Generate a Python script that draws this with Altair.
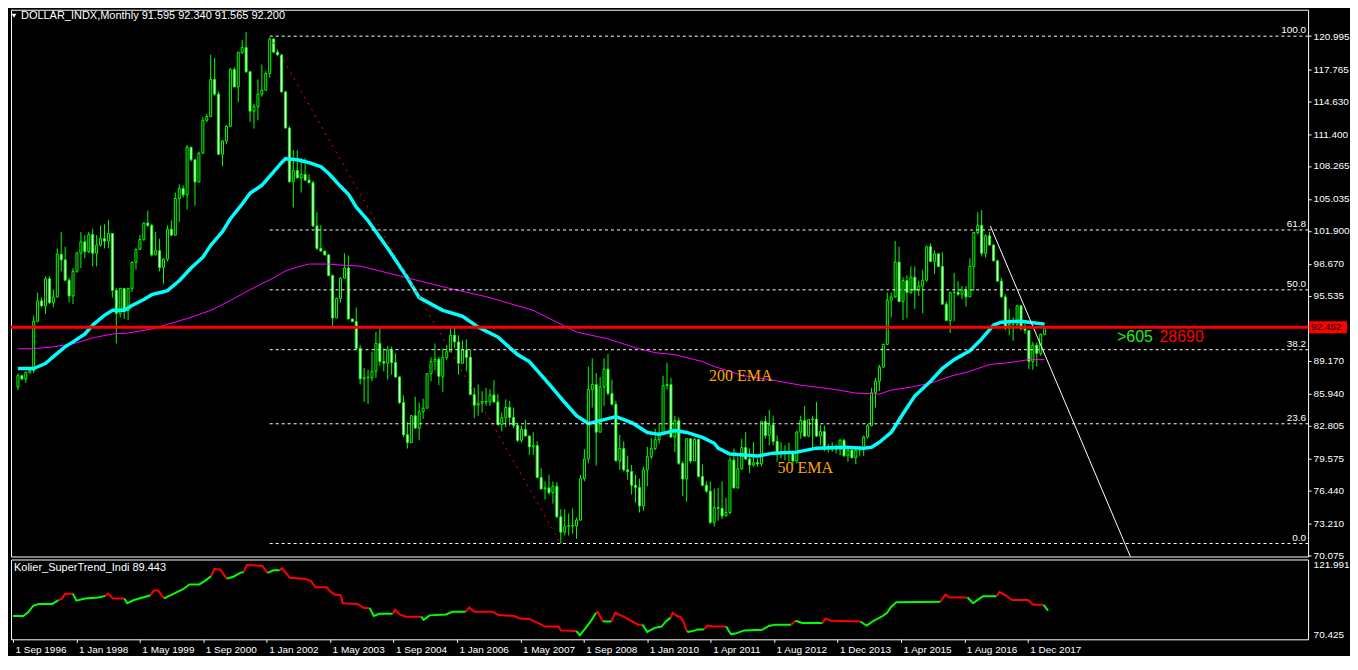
import altair as alt
import pandas as pd
import numpy as np

# ---------------- data ----------------
first_open = 86.61
close = [
    87.71, 87.38, 88.03, 88.22, 93.05, 95.04, 94.56, 97.20, 94.88, 95.43,
    99.61, 99.06, 97.07, 95.52, 97.94, 99.71, 100.83, 99.87, 101.54, 99.71,
    100.51, 101.15, 100.90, 101.64, 96.07, 93.82, 96.26, 94.08, 96.26, 98.81,
    100.09, 101.06, 102.67, 102.44, 99.55, 99.97, 98.32, 99.13, 102.06, 101.48,
    105.08, 106.05, 105.43, 110.10, 108.88, 106.69, 109.52, 112.74, 113.12, 116.76,
    115.31, 109.42, 110.71, 112.16, 117.72, 116.02, 119.40, 119.88, 117.50, 113.64,
    114.09, 115.31, 115.70, 117.34, 120.72, 119.43, 119.17, 115.53, 111.99, 106.72,
    107.82, 107.11, 107.43, 106.88, 106.62, 102.38, 100.19, 99.93, 99.55, 97.52,
    93.37, 95.27, 97.26, 98.26, 93.27, 93.01, 90.38, 87.39, 87.55, 87.51,
    88.13, 90.86, 89.09, 88.93, 90.22, 88.99, 87.58, 85.07, 81.92, 81.14,
    83.78, 82.56, 84.17, 84.52, 87.90, 89.09, 89.32, 87.64, 89.48, 90.06,
    91.67, 91.02, 88.93, 90.22, 89.51, 85.87, 84.81, 85.00, 85.17, 85.13,
    85.81, 85.13, 82.91, 83.59, 84.59, 83.62, 82.82, 81.37, 82.43, 81.79,
    80.73, 80.85, 77.73, 76.60, 76.70, 76.22, 76.86, 73.87, 72.36, 72.90,
    73.00, 72.97, 73.55, 77.60, 79.53, 86.35, 86.83, 82.17, 86.61, 88.35,
    85.97, 84.90, 79.37, 80.56, 78.47, 78.31, 76.96, 76.76, 74.93, 78.47,
    79.76, 80.56, 81.43, 82.10, 86.74, 86.83, 81.69, 83.30, 79.11, 77.57,
    81.53, 79.34, 81.46, 77.83, 76.96, 76.38, 73.32, 74.77, 74.70, 73.96,
    74.29, 79.43, 76.70, 78.57, 80.66, 79.53, 78.95, 79.18, 79.05, 83.20,
    81.85, 82.88, 81.27, 80.24, 80.17, 80.17, 80.24, 79.34, 82.17, 83.30,
    81.78, 83.39, 83.46, 81.78, 82.23, 80.50, 80.50, 80.56, 80.50, 81.37,
    79.85, 80.40, 79.66, 80.40, 80.56, 81.69, 82.81, 86.04, 87.16, 88.55,
    90.77, 95.11, 95.43, 98.84, 94.98, 97.04, 95.85, 97.36, 96.08, 96.49,
    97.07, 100.35, 98.91, 99.65, 98.42, 94.72, 93.12, 95.85, 95.88, 95.69,
    96.08, 95.43, 98.42, 101.74, 102.45, 99.71, 101.42, 100.52, 98.97, 96.98,
    95.43, 92.41, 92.73, 92.73, 94.56, 92.31, 92.15, 89.09, 90.70, 89.90,
    91.76, 92.41,
]
high = [
    87.90, 87.80, 88.12, 88.35, 93.59, 95.85, 95.36, 97.45, 97.45, 96.17,
    100.19, 101.80, 100.35, 97.29, 98.26, 99.87, 101.80, 101.48, 101.80, 102.12,
    101.48, 102.44, 102.54, 102.99, 101.64, 96.33, 96.33, 96.13, 96.33, 98.90,
    100.19, 101.48, 102.76, 103.89, 102.60, 101.80, 101.15, 99.23, 102.44, 102.92,
    105.66, 106.46, 106.37, 110.32, 110.16, 108.72, 109.68, 113.06, 113.38, 119.17,
    118.85, 115.57, 110.81, 112.26, 117.89, 117.95, 119.49, 120.62, 121.42, 117.56,
    114.35, 116.76, 118.21, 117.56, 120.85, 120.78, 119.66, 119.17, 115.63, 112.16,
    109.84, 109.84, 109.04, 109.04, 107.43, 106.82, 103.73, 102.44, 99.93, 99.61,
    97.62, 95.36, 97.36, 99.71, 99.48, 93.27, 94.40, 90.70, 88.45, 88.29,
    90.06, 91.99, 92.47, 90.38, 90.64, 90.54, 89.90, 87.64, 85.78, 83.14,
    83.85, 85.65, 85.07, 85.46, 87.97, 89.51, 90.86, 89.57, 90.38, 90.70,
    92.41, 92.41, 91.67, 91.18, 91.28, 90.22, 86.52, 86.84, 86.20, 86.52,
    86.36, 87.26, 85.91, 84.10, 85.39, 85.23, 84.59, 82.98, 82.82, 83.36,
    81.85, 82.17, 81.27, 78.63, 77.34, 77.99, 77.34, 77.28, 74.61, 74.61,
    74.19, 74.70, 73.80, 77.99, 80.50, 88.60, 89.41, 87.96, 87.57, 89.41,
    89.83, 87.32, 85.23, 81.91, 81.27, 79.85, 78.95, 77.99, 77.60, 78.79,
    80.72, 81.59, 82.49, 82.97, 87.70, 88.99, 87.48, 83.78, 83.62, 79.34,
    81.59, 79.43, 81.59, 80.72, 79.02, 77.34, 77.34, 76.64, 76.70, 77.34,
    75.73, 79.76, 80.56, 79.76, 81.53, 82.17, 80.56, 81.20, 79.60, 83.30,
    83.78, 84.36, 83.78, 81.85, 81.20, 80.88, 81.14, 80.24, 82.33, 83.78,
    84.74, 83.46, 83.78, 85.13, 82.88, 82.81, 81.04, 81.20, 80.95, 81.53,
    81.53, 80.56, 80.72, 80.62, 80.82, 81.85, 82.97, 86.52, 87.49, 88.77,
    90.86, 95.85, 95.85, 100.90, 100.35, 97.36, 97.55, 98.42, 98.42, 97.04,
    98.10, 100.45, 100.68, 99.97, 99.71, 99.81, 94.98, 95.95, 97.78, 96.98,
    96.49, 96.49, 99.23, 101.80, 103.73, 103.96, 101.55, 101.80, 100.58, 99.07,
    97.30, 95.69, 94.24, 93.44, 94.66, 94.66, 92.79, 92.15, 91.02, 90.96,
    91.83, 92.54,
]
low = [
    86.29, 87.25, 87.00, 87.90, 87.96, 92.95, 94.40, 93.75, 94.72, 94.40,
    95.36, 97.94, 96.97, 94.88, 94.72, 97.78, 98.26, 99.23, 99.71, 98.42,
    98.42, 100.35, 100.19, 100.19, 95.36, 90.86, 93.43, 93.27, 93.18, 95.91,
    98.10, 100.03, 100.90, 102.28, 99.39, 99.87, 97.94, 96.75, 98.90, 101.41,
    101.48, 102.76, 105.18, 103.99, 108.72, 104.37, 106.69, 109.46, 112.55, 113.06,
    115.15, 109.36, 108.23, 110.39, 112.10, 115.96, 114.51, 119.24, 117.40, 112.58,
    111.93, 112.74, 115.06, 115.63, 116.92, 119.33, 119.01, 115.47, 111.93, 106.62,
    104.21, 107.01, 105.66, 106.79, 106.56, 102.28, 100.03, 99.87, 99.48, 97.45,
    92.47, 93.92, 94.88, 97.23, 93.21, 92.95, 90.22, 86.84, 85.13, 84.91,
    87.16, 87.48, 88.67, 88.13, 87.32, 87.80, 87.48, 84.91, 81.69, 80.56,
    81.14, 82.50, 81.37, 83.46, 84.52, 87.16, 88.22, 86.77, 86.13, 89.25,
    89.99, 90.38, 87.80, 88.87, 88.13, 85.78, 83.53, 83.78, 84.10, 84.75,
    84.75, 85.07, 82.82, 82.24, 82.66, 82.82, 82.56, 81.21, 81.14, 81.76,
    79.92, 79.92, 77.66, 76.54, 75.57, 76.06, 75.16, 73.74, 71.23, 72.03,
    72.03, 72.20, 71.71, 73.48, 77.34, 79.11, 84.58, 78.89, 82.17, 84.74,
    85.77, 84.81, 79.27, 78.47, 78.31, 77.50, 76.06, 75.25, 74.29, 74.45,
    76.86, 79.53, 80.40, 81.04, 81.91, 86.35, 81.59, 80.24, 78.95, 75.90,
    75.35, 79.11, 79.60, 77.73, 76.86, 76.22, 73.16, 72.90, 73.48, 73.64,
    73.96, 74.13, 76.64, 76.64, 78.47, 79.43, 78.15, 78.79, 78.79, 78.79,
    81.53, 80.88, 80.88, 79.27, 79.60, 79.43, 79.27, 78.95, 79.11, 81.53,
    81.69, 81.69, 80.56, 81.69, 80.88, 80.30, 80.17, 80.24, 80.08, 79.92,
    79.76, 79.27, 79.60, 79.02, 79.85, 79.85, 81.53, 82.75, 84.59, 86.20,
    88.45, 90.80, 93.44, 95.37, 94.89, 93.18, 93.37, 95.75, 94.24, 95.53,
    93.82, 96.91, 98.84, 97.68, 98.33, 94.66, 93.05, 91.89, 93.05, 95.53,
    95.21, 94.47, 95.53, 96.01, 101.55, 99.39, 99.29, 100.45, 98.91, 96.91,
    95.37, 92.15, 91.67, 91.12, 92.54, 92.15, 91.83, 88.35, 88.29, 88.61,
    89.64, 91.67,
]

ema50_bar = [0, 4, 7, 9, 12, 14, 17, 19, 22, 24, 27, 29, 32, 34, 37, 38, 41, 44, 47, 49,
             52, 54, 57, 59, 62, 64, 67, 68, 71, 74, 77, 79, 82, 84, 86, 89, 94, 99, 102, 108,
             113, 117, 122, 127, 130, 134, 138, 142, 145, 148, 152, 156, 160, 163, 167, 170, 174, 177, 178, 181,
             188, 192, 198, 203, 210, 215, 217, 219, 222, 225, 228, 232, 235, 238, 242, 245, 248, 250, 255, 257,
             261]
ema50_val = [88.41, 88.41, 88.90, 89.57, 90.54, 91.02, 91.79, 92.66, 93.63, 94.11,
             94.11, 94.59, 95.17, 95.65, 95.94, 96.04, 97.01, 98.26, 99.32, 100.48,
             101.83, 103.09, 104.53, 105.60, 106.37, 107.24, 108.59, 108.98, 108.88, 108.59,
             108.20, 107.53, 106.27, 105.50, 104.24, 102.90, 100.20, 97.30, 95.36, 94.11,
             93.53, 92.47, 91.50, 89.77, 89.09, 87.35, 85.52, 83.78, 83.01, 83.30,
             83.69, 83.11, 82.14, 81.95, 82.33, 82.14, 81.66, 81.08, 80.60, 80.02,
             79.82, 80.11, 80.21, 80.60, 80.69, 80.60, 80.69, 81.18, 82.14, 83.97,
             85.71, 87.16, 88.41, 89.28, 90.15, 91.31, 92.66, 92.95, 93.05, 92.95,
             92.76]

ema200_bar = [0, 4, 9, 14, 19, 24, 28, 34, 39, 44, 49, 54, 59, 64, 68, 71, 74, 79, 82, 87,
              99, 109, 120, 125, 131, 137, 142, 150, 157, 162, 167, 174, 177, 184, 192, 199, 207, 213, 219, 222,
              227, 232, 237, 242, 247, 252, 257, 261]
ema200_val = [90.35, 90.35, 90.54, 90.83, 91.41, 91.79, 91.89, 92.28, 92.85, 93.43,
              94.11, 95.07, 96.14, 97.10, 97.97, 98.36, 98.65, 98.65, 98.55, 98.45,
              97.30, 96.33, 95.36, 94.78, 94.11, 92.95, 91.99, 91.31, 90.44, 89.96,
              89.77, 89.09, 88.61, 87.74, 87.26, 86.77, 86.39, 86.00, 85.90, 86.29,
              86.58, 86.97, 87.64, 88.13, 88.80, 88.99, 89.28, 89.28]

st_bar = [0, 2.6, 3.7, 5.1, 6.5, 9.9, 11.5,
          12.4, 13.2, 15.1,
          16.0, 18.2, 21.6, 23.3,
          24.0, 25.2, 28.1,
          28.8, 30.5, 32.7, 34.7,
          35.5, 36.6, 38.1,
          41.1, 42.8, 44.5, 47.0, 48.4, 50.0,
          50.8, 52.3, 53.9,
          55.6, 57.3, 58.2,
          59.0, 62.9, 64.2,
          65.7, 67.3,
          67.9, 69.8, 73.5, 75.1, 76.3, 79.1, 79.8, 81.1, 82.7, 83.2, 86.9, 88.5, 89.9,
          90.2, 91.0, 92.4, 95.8,
          96.4, 97.5, 99.1, 103.0,
          103.6, 105.1, 109.2, 110.9, 114.2,
          115.1, 116.4, 120.9, 122.6, 126.5, 127.6, 130.4, 132.1, 134.3, 137.6, 138.2, 142.1,
          143.0, 144.3, 145.7, 147.1,
          147.5, 148.8,
          149.0, 151.0,
          151.9, 153.8, 157.7, 158.8,
          160.0, 161.9, 163.6, 164.7, 165.9,
          166.4, 167.5, 168.4, 169.2, 170.0,
          170.4, 172.1, 172.7, 174.3,
          175.2, 176.6, 179.9,
          181.1, 182.2, 184.5, 189.0, 190.7, 192.3, 196.3,
          197.4,
          199.1, 204.2,
          205.0, 206.4, 213.8,
          214.7, 215.4, 217.1, 219.4, 220.5, 221.4, 222.8, 234.0,
          235.2, 236.3, 240.8,
          242.2, 243.1, 244.7, 248.1,
          248.9, 250.4, 252.1, 256.0, 257.4, 260.0,
          261.1]
st_val = [85.47, 85.47, 87.54, 92.08, 93.31, 93.31, 95.79,
          96.82, 99.92, 99.92,
          95.38, 96.82, 97.44, 98.47,
          99.92, 96.82, 96.82,
          93.73, 95.79, 97.44, 98.88,
          101.98, 101.98, 96.82,
          100.53, 102.60, 105.90, 105.90, 108.17, 111.26,
          116.01, 115.39, 109.61,
          110.85, 113.33, 113.94,
          118.48, 117.86, 113.33,
          114.98, 114.98,
          116.42, 110.23, 109.61, 108.17, 104.04, 104.04, 101.98, 99.30, 98.88, 93.73, 93.31, 90.63, 90.63,
          89.60, 85.47, 86.92, 86.92,
          89.60, 86.51, 85.06, 85.06,
          83.00, 85.89, 86.51, 88.16, 88.16,
          91.04, 88.16, 88.16, 86.09, 85.47, 84.03, 83.41, 81.35, 78.67, 78.67, 76.19, 75.78,
          73.10, 77.22, 81.97, 87.54,
          88.16, 81.97,
          81.97, 81.97,
          87.54, 85.47, 79.90, 79.90,
          75.16, 77.84, 78.67, 81.97, 84.44,
          87.54, 85.47, 84.86, 81.35, 75.57,
          75.16, 76.19, 76.81, 76.81,
          79.29, 78.67, 78.67,
          73.72, 74.13, 76.19, 76.60, 79.08, 79.90, 79.90,
          82.38,
          80.94, 80.94,
          83.82, 82.38, 81.97,
          80.32, 79.29, 82.38, 85.47, 87.54, 91.04, 94.35, 94.76,
          99.30, 97.44, 97.44,
          93.73, 95.38, 98.27, 98.27,
          100.95, 98.88, 95.79, 95.79, 92.70, 92.70,
          88.98]
st_trend = list("GGGGGGG" "RRR" "GGGG" "RRR" "GGGG" "RRR" "GGGGGG" "RRR" "GGG" "RRR" "GG"
                "RRRRRRRRRRRRR" "GGGG" "RRRR" "GGGGG" "RRRRRRRRRRRR" "GGGG" "RR" "GG" "RRRR"
                "GGGGG" "RRRRR" "GGGG" "RRR" "GGGGGGG" "R" "GG" "RRR" "GGGGGGGG" "RRR" "GGGG"
                "RRRRRR" "G")

fib_levels = [0.0, 23.6, 38.2, 50.0, 61.8, 100.0]
fib_high, fib_low = 120.995, 71.25
fib_high_bar, fib_low_bar = 64, 138
trend_bar = [247.2, 283.0]
trend_val = [102.38, 69.79]
red_level = 92.452

price_ticks = [120.995, 117.765, 114.630, 111.400, 108.265, 105.035, 101.900, 98.670,
               95.535, 89.170, 85.940, 82.805, 79.575, 76.440, 73.210, 70.075]
ind_ticks = [121.991, 70.425]
x_tick_bars = [0, 16, 32, 48, 64, 80, 96, 112, 128, 144, 160, 176, 192, 208, 224, 240, 256]
x_tick_labels = ["1 Sep 1996", "1 Jan 1998", "1 May 1999", "1 Sep 2000", "1 Jan 2002",
                 "1 May 2003", "1 Sep 2004", "1 Jan 2006", "1 May 2007", "1 Sep 2008",
                 "1 Jan 2010", "1 Apr 2011", "1 Aug 2012", "1 Dec 2013", "1 Apr 2015",
                 "1 Aug 2016", "1 Dec 2017"]

title_text = "DOLLAR_INDX,Monthly  91.595 92.340 91.565 92.200"
ind_title = "Kolier_SuperTrend_Indi 89.443"

# ---------------- layout / style ----------------
W, H1, H2 = 1300, 548, 80
FONT = "Liberation Sans"
LIME, RED, WHITE = "#00ff00", "#ff0000", "#ffffff"

xs = alt.Scale(domain=[-0.503, 326.71], nice=False, zero=False)
ys = alt.Scale(domain=[69.977, 123.587], nice=False, zero=False)
ys2 = alt.Scale(domain=[70.425, 121.991], nice=False, zero=False)

y_axis = alt.Axis(orient="right", values=price_ticks, format=".3f", title=None, grid=False,
                  domain=False, tickSize=3, tickColor=WHITE, labelColor=WHITE, labelFont=FONT,
                  labelFontSize=10, labelPadding=2)


def X(f):
    return alt.X(f, type="quantitative", scale=xs, axis=None)


def Y(f):
    return alt.Y(f, type="quantitative", scale=ys, axis=y_axis)


# ---------------- tables ----------------
opens = [first_open] + close[:-1]
cdf = pd.DataFrame({"bar": np.arange(len(close)), "open": opens, "close": close,
                    "high": high, "low": low})
cdf["high"] = cdf[["high", "open", "close"]].max(axis=1)
cdf["low"] = cdf[["low", "open", "close"]].min(axis=1)
cdf["dir"] = np.where(cdf["close"] >= cdf["open"], "up", "down")

e50 = pd.DataFrame({"bar": ema50_bar, "price": ema50_val})
e200 = pd.DataFrame({"bar": ema200_bar, "price": ema200_val})

fib_df = pd.DataFrame({"lvl": fib_levels})
fib_df["price"] = fib_low + (fib_high - fib_low) * fib_df["lvl"] / 100.0
fib_df["start"] = fib_high_bar
fib_df["label"] = [f"{v:.1f}" for v in fib_levels]

diag_df = pd.DataFrame({"bar": [fib_high_bar, fib_low_bar], "price": [fib_high, fib_low]})
tl_df = pd.DataFrame({"bar": trend_bar, "price": trend_val})
red_df = pd.DataFrame({"price": [red_level], "txt": [f"{red_level:.3f}"]})

ema_lbl = pd.DataFrame({"bar": [175.7, 193.1], "price": [87.64, 78.67], "txt": ["200 EMA", "50 EMA"]})
sig_lbl = pd.DataFrame({"bar": [279.4, 290.2], "price": [91.5, 91.5], "txt": [">605", "28690"],
                        "col": ["g", "r"]})

rows = []
seg = 0
for k, (b, v, t) in enumerate(zip(st_bar, st_val, st_trend)):
    if k > 0 and t != st_trend[k - 1]:
        seg += 1
        rows.append({"bar": st_bar[k - 1], "val": st_val[k - 1], "trend": t, "seg": seg})
    rows.append({"bar": b, "val": v, "trend": t, "seg": seg})
st_df = pd.DataFrame(rows)

# ---------------- main panel ----------------
wicks = alt.Chart(cdf).mark_rule(color=LIME, strokeWidth=1).encode(
    x=X("bar"), y=Y("low"), y2="high")
bodies = alt.Chart(cdf).mark_bar(size=2, stroke=LIME, strokeWidth=1).encode(
    x=X("bar"), y=Y("open"), y2="close",
    fill=alt.Fill("dir:N", scale=alt.Scale(domain=["up", "down"], range=["#000000", "#ffffff"]),
                  legend=None))
l200 = alt.Chart(e200).mark_line(color="#ff00ff", strokeWidth=1).encode(x=X("bar"), y=Y("price"))
l50 = alt.Chart(e50).mark_line(color="#00ffff", strokeWidth=3.5, strokeJoin="round").encode(
    x=X("bar"), y=Y("price"))
fib_rules = alt.Chart(fib_df).mark_rule(color=WHITE, strokeDash=[3, 3], strokeWidth=1).encode(
    x=X("start"), x2=alt.value(W), y=Y("price"))
fib_text = alt.Chart(fib_df).mark_text(align="right", baseline="bottom", dy=-1, color=WHITE,
                                       font=FONT, fontSize=10).encode(
    x=alt.value(W - 2), y=Y("price"), text="label:N")
diag = alt.Chart(diag_df).mark_line(color=RED, strokeDash=[2, 5], strokeWidth=1).encode(
    x=X("bar"), y=Y("price"))
tline = alt.Chart(tl_df).mark_line(color=WHITE, strokeWidth=1, clip=True).encode(
    x=X("bar"), y=Y("price"))
red_rule = alt.Chart(red_df).mark_rule(color=RED, strokeWidth=3).encode(y=Y("price"))
red_box = alt.Chart(red_df).mark_tick(orient="horizontal", size=38, thickness=12, color=RED,
                                      opacity=1, clip=False).encode(
    x=alt.value(W + 20), y=Y("price"))
red_txt = alt.Chart(red_df).mark_text(align="left", baseline="middle", color="#000000",
                                      font=FONT, fontSize=10).encode(
    x=alt.value(W + 3), y=Y("price"), text="txt:N")
ema_text = alt.Chart(ema_lbl).mark_text(align="left", baseline="middle", color="#FFA500",
                                        font="Liberation Serif", fontSize=16).encode(
    x=X("bar"), y=Y("price"), text="txt:N")
sig_text = alt.Chart(sig_lbl).mark_text(align="left", baseline="middle", font=FONT,
                                        fontSize=16).encode(
    x=X("bar"), y=Y("price"), text="txt:N",
    color=alt.Color("col:N", scale=alt.Scale(domain=["g", "r"], range=["#22ee22", RED]), legend=None))
title_df = pd.DataFrame({"t": [title_text]})
title_mark = alt.Chart(title_df).mark_text(align="left", baseline="middle", color=WHITE,
                                           font=FONT, fontSize=11).encode(
    x=alt.value(10), y=alt.value(6), text="t:N")
tri = alt.Chart(title_df).mark_point(shape="triangle-down", filled=True, color=WHITE, size=22,
                                     opacity=1).encode(x=alt.value(3), y=alt.value(6))

main = alt.layer(wicks, bodies, l200, l50, fib_rules, fib_text, diag, tline, red_rule,
                 red_box, red_txt, ema_text, sig_text, title_mark, tri).properties(
    width=W, height=H1)

# ---------------- indicator panel ----------------
label_expr = ("[" + ",".join(f"'{s}'" for s in x_tick_labels) + "][indexof(["
              + ",".join(str(b) for b in x_tick_bars) + "], datum.value)]")
x_axis = alt.Axis(values=x_tick_bars, labelExpr=label_expr, labelAlign="left", labelBaseline="top",
                  labelPadding=2, labelOffset=2, labelFlush=False, tickSize=3, tickColor=WHITE,
                  labelColor=WHITE, labelFont=FONT, labelFontSize=10, domain=False, grid=False,
                  title=None, labelOverlap=False)
ind_axis = alt.Axis(orient="right", values=ind_ticks, format=".3f", ticks=False, tickSize=0,
                    labelFlush=True, labelPadding=5, labelColor=WHITE, labelFont=FONT,
                    labelFontSize=10, domain=False, grid=False, title=None)

st_line = alt.Chart(st_df).mark_line(strokeWidth=2).encode(
    x=alt.X("bar:Q", scale=xs, axis=x_axis),
    y=alt.Y("val:Q", scale=ys2, axis=ind_axis),
    color=alt.Color("trend:N", scale=alt.Scale(domain=["G", "R"], range=[LIME, RED]), legend=None),
    detail="seg:N")
ind_df = pd.DataFrame({"t": [ind_title]})
ind_text = alt.Chart(ind_df).mark_text(align="left", baseline="middle", color=WHITE, font=FONT,
                                       fontSize=11).encode(x=alt.value(3), y=alt.value(9), text="t:N")
ind = alt.layer(st_line, ind_text).properties(width=W, height=H2)

chart = alt.vconcat(main, ind, spacing=3, bounds="flush").resolve_scale(
    x="independent", y="independent", color="independent").properties(
    background="#000000", padding=0).configure_view(stroke=WHITE, strokeWidth=1)

chart.save("out.html", embed_options={"renderer": "svg", "actions": False})
